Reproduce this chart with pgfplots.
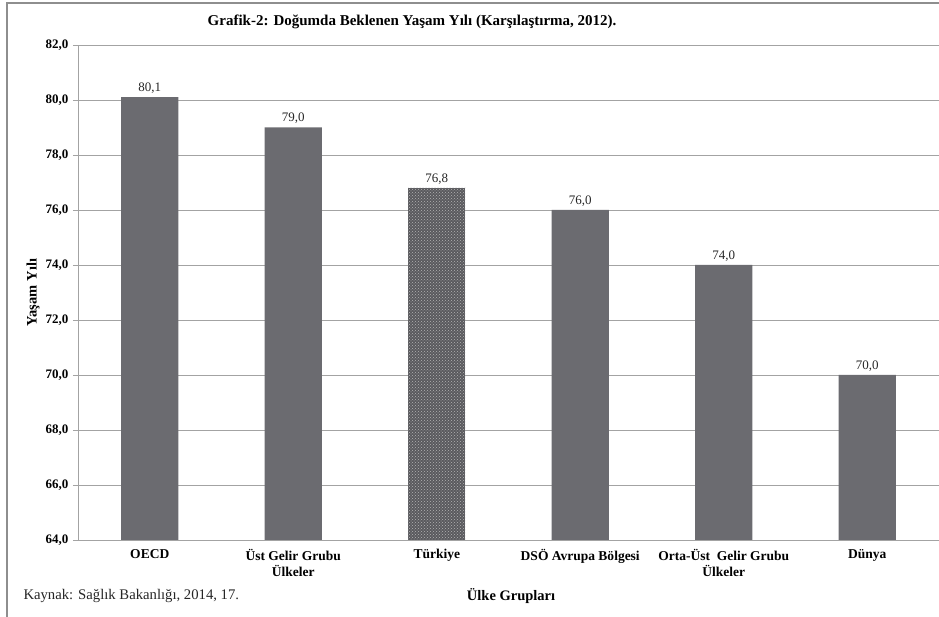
\documentclass[border=0pt]{standalone}
\usepackage{fontspec}
\setmainfont{Liberation Serif}
\usepackage{pgfplots}
\pgfplotsset{compat=1.18}
\usetikzlibrary{patterns}
\definecolor{barfill}{HTML}{6B6B70}
\definecolor{dotfill}{HTML}{5A5A5E}
\definecolor{dotc}{HTML}{B4B4B4}
\definecolor{gridc}{HTML}{A3A3A3}
\definecolor{framec}{HTML}{8E8E8E}
\newcommand{\lblfont}{\fontsize{13.5}{15.5}\selectfont\bfseries}
\begin{document}
\begin{tikzpicture}
\useasboundingbox (0,0) rectangle (939pt,617pt);
% page frame
\draw[framec, line width=1.3pt] (7pt,0) -- (7pt,614pt) -- (939pt,614pt);
\begin{axis}[
  at={(78pt,77pt)}, anchor=south west,
  scale only axis, width=861pt, height=495pt,
  xmin=-0.5, xmax=5.5, ymin=64, ymax=82,
  ybar, bar width=0.4, bar shift=0pt,
  ytick={64,66,...,82},
  xtick={0,...,5},
  xticklabels={OECD,{Üst Gelir Grubu\\Ülkeler},Türkiye,DSÖ Avrupa Bölgesi,{Orta-Üst\ \ Gelir Grubu\\Ülkeler},Dünya},
  /pgf/number format/.cd, fixed, fixed zerofill, precision=1, use comma, assume math mode=true,
  /pgfplots/.cd,
  axis line style={draw=none},
  ymajorgrids, grid style={gridc, line width=0.9pt},
  tick align=outside, ytick pos=left, major tick length=5pt,
  ytick style={gridc, line width=0.9pt},
  xtick style={draw=none},
  yticklabel style={font=\fontsize{13}{15}\selectfont\bfseries, xshift=-1pt},
  xticklabel style={font=\lblfont, align=center, yshift=-1pt},
  nodes near coords,
  every node near coord/.append style={font=\fontsize{13}{15}\selectfont, black!85, yshift=0pt},
  title={Grafik-2: Doğumda Beklenen Yaşam Yılı (Karşılaştırma, 2012).},
  title style={font=\fontsize{15}{17}\selectfont\bfseries, at={(0.388,1.034)}, anchor=center},
  xlabel={Ülke Grupları},
  xlabel style={font=\fontsize{14.5}{16}\selectfont\bfseries, at={(0.503,-0.113)}, anchor=center},
  ylabel={Yaşam Yılı},
  ylabel style={font=\fontsize{14.5}{16}\selectfont\bfseries, at={(-0.0523,0.5)}, anchor=center},
  clip=false,
]
\addplot[fill=barfill, draw=none] coordinates {(0,80.1) (1,79.0) (3,76.0) (4,74.0) (5,70.0)};
\addplot[fill=dotfill, draw=none, postaction={pattern=crosshatch dots, pattern color=dotc}] coordinates {(2,76.8)};
\draw[gridc, line width=0.9pt] (rel axis cs:0,0) -- (rel axis cs:0,1);
\node[anchor=west, font=\fontsize{14.7}{16}\selectfont, black!85] at (axis description cs:-0.0674,-0.113) {Kaynak: Sağlık Bakanlığı, 2014, 17.};
\end{axis}
\end{tikzpicture}
\end{document}
